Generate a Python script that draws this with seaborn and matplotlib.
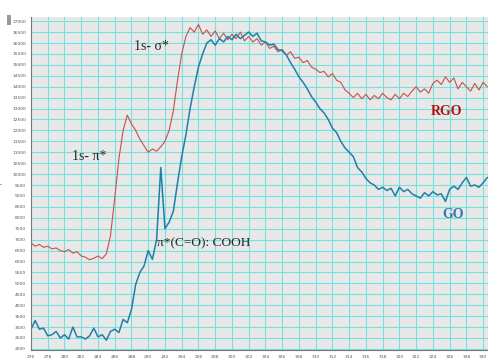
import numpy as np
import pandas as pd
import matplotlib
matplotlib.use("Agg")
import matplotlib.pyplot as plt
import seaborn as sns

energy = [276.0 + 0.5 * i for i in range(110)]

rgo = [6850, 6700, 6780, 6650, 6700, 6580, 6620, 6500, 6450, 6550,
       6380, 6450, 6250, 6200, 6080, 6150, 6250, 6130, 6350, 7200,
       8900, 10700, 12000, 12700, 12300, 12000, 11600, 11300, 11000, 11150,
       11050, 11250, 11500, 12000, 12900, 14300, 15500, 16300, 16700, 16500,
       16850, 16400, 16600, 16300, 16550, 16200, 16450, 16150, 16400, 16200,
       16500, 16100, 16300, 16050, 16200, 15900, 16050, 15750, 15850, 15600,
       15700, 15450, 15600, 15300, 15350, 15100, 15200, 14900, 14800, 14650,
       14700, 14450, 14600, 14300, 14200, 13850, 13700, 13500, 13700, 13450,
       13650, 13400, 13600, 13450, 13700, 13500, 13400, 13650, 13450, 13700,
       13550, 13800, 14000, 13750, 13900, 13700, 14150, 14300, 14100, 14450,
       14200, 14400, 13900, 14200, 14000, 13800, 14150, 13850, 14200, 14000]

go = [2900, 3300, 2900, 2950, 2600, 2650, 2800, 2500, 2650, 2450,
      3000, 2550, 2550, 2450, 2600, 2950, 2550, 2650, 2400, 2800,
      2900, 2750, 3350, 3200, 3800, 4950, 5500, 5800, 6500, 6100,
      7000, 10300, 7500, 7800, 8300, 9600, 10800, 11800, 13000, 14000,
      14900, 15500, 16000, 16150, 15900, 16200, 16050, 16300, 16150, 16400,
      16200, 16350, 16500, 16300, 16450, 16100, 16050, 15900, 15950, 15700,
      15650, 15450, 15100, 14800, 14450, 14200, 13900, 13550, 13300, 13000,
      12800, 12500, 12100, 11900, 11500, 11200, 11000, 10800, 10300, 10100,
      9800, 9600, 9500, 9300, 9400, 9250, 9350, 9000, 9400, 9200,
      9300, 9100, 9000, 8900, 9150, 9000, 9200, 9050, 9100, 8750,
      9300, 9450, 9300, 9600, 9850, 9450, 9500, 9400, 9600, 9850]

x_ticks = list(range(276, 331, 2))
y_ticks = list(range(2000, 17001, 500))

df = pd.DataFrame({
    "energy": energy * 2,
    "intensity": rgo + go,
    "sample": ["RGO"] * len(rgo) + ["GO"] * len(go),
})

sns.set_theme(style="white")
plt.rcParams["font.family"] = ["DejaVu Sans"]

fig = plt.figure(figsize=(4.89, 3.62), dpi=100)
ax = fig.add_axes([31 / 489, 12 / 362, 1 - 31 / 489, (350 - 17) / 362])
ax.set_facecolor("#e8e8e8")

sns.lineplot(data=df[df["sample"] == "RGO"], x="energy", y="intensity",
             color="#c8504a", linewidth=0.8, ax=ax, legend=False)
sns.lineplot(data=df[df["sample"] == "GO"], x="energy", y="intensity",
             color="#1f7fa6", linewidth=1.1, ax=ax, legend=False)

ax.set_xlim(276, 330.7)
ax.set_ylim(1950, 17190)
ax.set_xticks(x_ticks)
ax.set_yticks(y_ticks)
ax.set_xticklabels([str(t) for t in x_ticks], fontsize=3.2, color="#555555")
ax.set_yticklabels([str(t) for t in y_ticks], fontsize=3.2, color="#555555")
ax.tick_params(axis="both", length=2, width=0.5, pad=1.5, colors="#555555")
ax.grid(True, color="#72e2de", linewidth=0.75)
ax.set_axisbelow(True)
for side in ["top", "right"]:
    ax.spines[side].set_visible(False)
for side in ["left", "bottom"]:
    ax.spines[side].set_color("#777777")
    ax.spines[side].set_linewidth(0.8)
ax.set_xlabel("")
ax.set_ylabel("I", fontsize=4, color="#555555", labelpad=6)

serif = ["Liberation Serif", "DejaVu Serif"]
ax.text(288.3, 15850, "1s- σ*", family=serif, fontsize=10, va="center", ha="left")
ax.text(280.9, 10820, "1s- π*", family=serif, fontsize=10, va="center", ha="left")
ax.text(291.0, 6850, "π*(C=O): COOH", family=serif, fontsize=9.6, va="center", ha="left")
ax.text(323.7, 12880, "RGO", family=serif, fontsize=10, fontweight="bold",
        color="#b01010", va="center", ha="left")
ax.text(325.1, 8170, "GO", family=serif, fontsize=10, fontweight="bold",
        color="#2e75b6", va="center", ha="left")

fig.patches.append(plt.Rectangle((7 / 489, 1 - 25 / 362), 4 / 489, 10 / 362,
                                 transform=fig.transFigure, facecolor="#9a9a9a",
                                 edgecolor="none"))

fig.savefig("out.png", dpi=100, facecolor="white")
